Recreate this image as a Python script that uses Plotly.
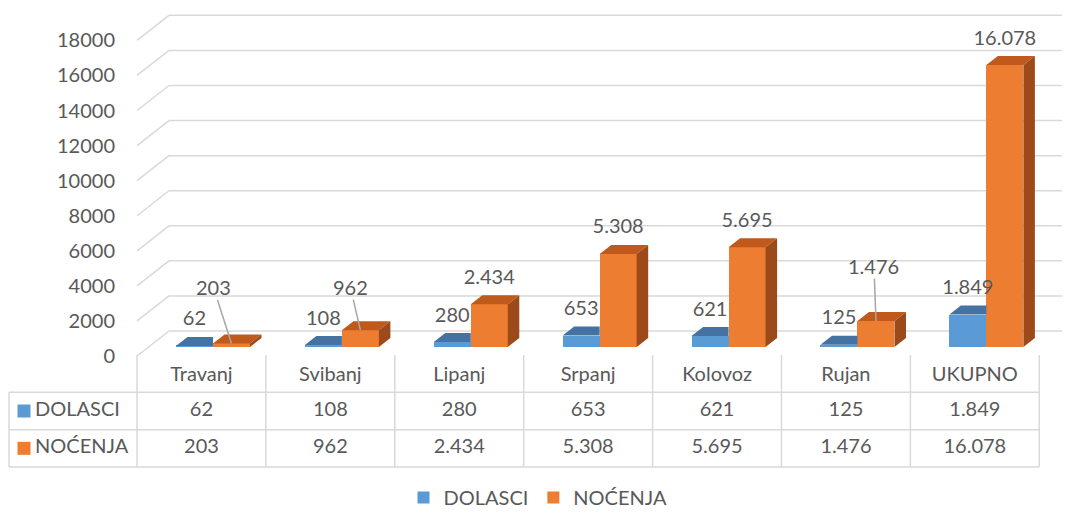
import plotly.graph_objects as go

# ---------------- data ----------------
categories = ["Travanj", "Svibanj", "Lipanj", "Srpanj", "Kolovoz", "Rujan", "UKUPNO"]
dolasci = [62, 108, 280, 653, 621, 125, 1849]
nocenja = [203, 962, 2434, 5308, 5695, 1476, 16078]
series_names = ["DOLASCI", "NOĆENJA"]
y_ticks = [0, 2000, 4000, 6000, 8000, 10000, 12000, 14000, 16000, 18000]


def fmt(v):
    return f"{v:,}".replace(",", ".")


# ---------------- style ----------------
BLUE, BLUE_TOP = "#5b9bd5", "#4472a2"
ORANGE, ORANGE_TOP, ORANGE_SIDE = "#ed7d31", "#c05a1c", "#9c4a19"
TEXT, GRID, LEADER = "#595959", "#d9d9d9", "#a6a6a6"
FONT, FS = "Lato", 20

# geometry, in pixels of the 1070x518 screenshot -> axis units
# (the page body adds an 8 px margin, so the figure itself is 8 px smaller and shifted)
OFF = 8.0
W_SHOT, H_SHOT = 1070, 518
W, H = int(W_SHOT - OFF), int(H_SHOT - OFF)
PX_FRONT_X0 = 137.0      # left edge of the category axis
PX_CAT = 128.9           # width of one category
PX_FRONT_Y0 = 356.0      # value 0 on the front plane
PX_PER_UNIT = 35.07 / 2000
PX_PLOT_TOP = 8.0
WALL_PX = (32.0, 25.0)   # oblique depth of the floor / side wall
BAR_DEPTH = (0.36, 0.72)
BAR_W_PX = 37.0
LABEL_GAP_PX = 16.5
TABLE_TOP_PX, ROW_PX, TABLE_LEFT_PX = 355.0, 37.33, 9.0
KEY_PX, KEY_TEXT_PX = 24.0, 35.0
LEGEND_BOTTOM_PX, LEGEND_X_PX = 517.0, 538.0
LEADER_OFFSETS = {0: (-18, -56), 1: (-10, -43), 5: (-2, -55)}  # moved NOĆENJA labels

DX = WALL_PX[0] / PX_CAT
DY = WALL_PX[1] / PX_PER_UNIT
X_MIN = -0.5 - (PX_FRONT_X0 - OFF) / PX_CAT
X_MAX = -0.5 + (W_SHOT - PX_FRONT_X0) / PX_CAT
Y_MAX = (PX_FRONT_Y0 - PX_PLOT_TOP) / PX_PER_UNIT
n = len(categories)
last = n - 0.5


def px_to_x(px):
    return -0.5 + (px - PX_FRONT_X0) / PX_CAT


def paper_y(px):
    return 1 - (px - OFF) / H


fig = go.Figure()

# ---------------- bars (front faces) ----------------
shift = BAR_DEPTH[0] * DX
base = BAR_DEPTH[0] * DY
bw = BAR_W_PX / PX_CAT
bdx = (BAR_DEPTH[1] - BAR_DEPTH[0]) * DX
bdy = (BAR_DEPTH[1] - BAR_DEPTH[0]) * DY
xs = [i + shift for i in range(n)]

fig.add_bar(x=xs, y=dolasci, base=base, width=bw, offset=-bw, name=series_names[0],
            marker=dict(color=BLUE, line=dict(width=0)), hoverinfo="skip")
fig.add_bar(x=xs, y=nocenja, base=base, width=bw, offset=0, name=series_names[1],
            marker=dict(color=ORANGE, line=dict(width=0)), hoverinfo="skip")

# ---------------- 3D faces ----------------
bt_x, bt_y, ot_x, ot_y, os_x, os_y = [], [], [], [], [], []
for i in range(n):
    # blue top (part not hidden behind the orange column)
    xl, xr, t = xs[i] - bw, xs[i], base + dolasci[i]
    bt_x += [xl, xr, xr, xl + bdx, xl, None]
    bt_y += [t, t, t + bdy, t + bdy, t, None]
    # orange top and side
    xl, xr, t = xs[i], xs[i] + bw, base + nocenja[i]
    ot_x += [xl, xr, xr + bdx, xl + bdx, xl, None]
    ot_y += [t, t, t + bdy, t + bdy, t, None]
    os_x += [xr, xr, xr + bdx, xr + bdx, xr, None]
    os_y += [base, t, t + bdy, base + bdy, base, None]

for fx, fy, col in [(bt_x, bt_y, BLUE_TOP), (ot_x, ot_y, ORANGE_TOP), (os_x, os_y, ORANGE_SIDE)]:
    fig.add_scatter(x=fx, y=fy, mode="lines", fill="toself", fillcolor=col,
                    line=dict(width=0, color=col), showlegend=False, hoverinfo="skip")

# ---------------- data labels ----------------
gap = LABEL_GAP_PX / PX_PER_UNIT
lx, ly, lt = [], [], []
for i in range(n):
    lx.append(xs[i] - bw / 2)
    ly.append(base + dolasci[i] + bdy + gap)
    lt.append(fmt(dolasci[i]))
    if i not in LEADER_OFFSETS:
        lx.append(xs[i] + bw / 2)
        ly.append(base + nocenja[i] + bdy + gap)
        lt.append(fmt(nocenja[i]))
fig.add_scatter(x=lx, y=ly, text=lt, mode="text", textposition="middle center",
                textfont=dict(family=FONT, size=FS, color=TEXT), cliponaxis=False,
                showlegend=False, hoverinfo="skip")

annotations = []
for i, (ax, ay) in LEADER_OFFSETS.items():
    annotations.append(dict(
        x=xs[i] + bw / 2, y=base + nocenja[i], xref="x", yref="y",
        text=fmt(nocenja[i]), showarrow=True, arrowhead=0, arrowwidth=1.5,
        arrowcolor=LEADER, ax=ax, ay=ay, standoff=0, borderpad=0,
        font=dict(family=FONT, size=FS, color=TEXT)))

# ---------------- gridlines (side wall + back wall) ----------------
shapes = []
for v in y_ticks:
    shapes.append(dict(type="line", xref="x", yref="y", x0=-0.5, y0=v, x1=-0.5 + DX, y1=v + DY,
                       line=dict(color=GRID, width=1.5), layer="below"))
    shapes.append(dict(type="line", xref="x", yref="y", x0=-0.5 + DX, y0=v + DY, x1=last + DX, y1=v + DY,
                       line=dict(color=GRID, width=1.5), layer="below"))

# ---------------- data table ----------------
x_tab_left = px_to_x(TABLE_LEFT_PX)
for i in range(n + 1):
    shapes.append(dict(type="line", xref="x", yref="y2", x0=i - 0.5, x1=i - 0.5, y0=0, y1=3,
                       line=dict(color=GRID, width=1.5), layer="below"))
shapes.append(dict(type="line", xref="x", yref="y2", x0=x_tab_left, x1=x_tab_left, y0=1, y1=3,
                   line=dict(color=GRID, width=1.5), layer="below"))
for r in (1, 2, 3):
    shapes.append(dict(type="line", xref="x", yref="y2", x0=x_tab_left, x1=last, y0=r, y1=r,
                       line=dict(color=GRID, width=1.5), layer="below"))

tab_font = dict(family=FONT, size=FS, color=TEXT)
fig.add_scatter(x=list(range(n)), y=[0.55] * n, text=categories, mode="text", yaxis="y2",
                textfont=tab_font, cliponaxis=False, showlegend=False, hoverinfo="skip")
fig.add_scatter(x=list(range(n)), y=[1.5] * n, text=[fmt(v) for v in dolasci], mode="text",
                yaxis="y2", textfont=tab_font, cliponaxis=False, showlegend=False, hoverinfo="skip")
fig.add_scatter(x=list(range(n)), y=[2.5] * n, text=[fmt(v) for v in nocenja], mode="text",
                yaxis="y2", textfont=tab_font, cliponaxis=False, showlegend=False, hoverinfo="skip")
fig.add_scatter(x=[px_to_x(KEY_PX)] * 2, y=[1.5, 2.5], mode="markers", yaxis="y2",
                marker=dict(symbol="square", size=13, color=[BLUE, ORANGE], line=dict(width=0)),
                cliponaxis=False, showlegend=False, hoverinfo="skip")
fig.add_scatter(x=[px_to_x(KEY_TEXT_PX)] * 2, y=[1.5, 2.5], text=series_names, mode="text",
                textposition="middle right", yaxis="y2", textfont=tab_font, cliponaxis=False,
                showlegend=False, hoverinfo="skip")

# ---------------- layout ----------------
y2_top_px = TABLE_TOP_PX - 0.05 * ROW_PX
y2_bot_px = TABLE_TOP_PX + 3.1 * ROW_PX
fig.update_layout(
    width=W, height=H, margin=dict(l=0, r=0, t=0, b=0, pad=0, autoexpand=False),
    paper_bgcolor="white", plot_bgcolor="rgba(0,0,0,0)",
    barmode="overlay", bargap=0,
    font=dict(family=FONT, size=FS, color=TEXT),
    xaxis=dict(range=[X_MIN, X_MAX], domain=[0, 1], visible=False, fixedrange=True,
               automargin=False),
    yaxis=dict(range=[0, Y_MAX], domain=[paper_y(PX_FRONT_Y0), min(1, paper_y(PX_PLOT_TOP))],
               anchor="free", position=(PX_FRONT_X0 - OFF) / W, side="left",
               tickvals=y_ticks, ticktext=[str(v) for v in y_ticks],
               showgrid=False, zeroline=False, showline=False, ticks="",
               ticklabelstandoff=22, tickfont=dict(family=FONT, size=FS, color=TEXT),
               fixedrange=True, automargin=False),
    yaxis2=dict(range=[3.1, -0.05], domain=[paper_y(y2_bot_px), paper_y(y2_top_px)],
                anchor="x", visible=False, fixedrange=True),
    shapes=shapes, annotations=annotations,
    showlegend=True,
    legend=dict(orientation="h", x=(LEGEND_X_PX - OFF) / W, xanchor="center",
                y=max(0, paper_y(LEGEND_BOTTOM_PX)), yanchor="bottom",
                font=dict(family=FONT, size=FS, color=TEXT), itemwidth=30,
                traceorder="normal", bgcolor="rgba(0,0,0,0)"),
)

fig.write_html("out.html")
